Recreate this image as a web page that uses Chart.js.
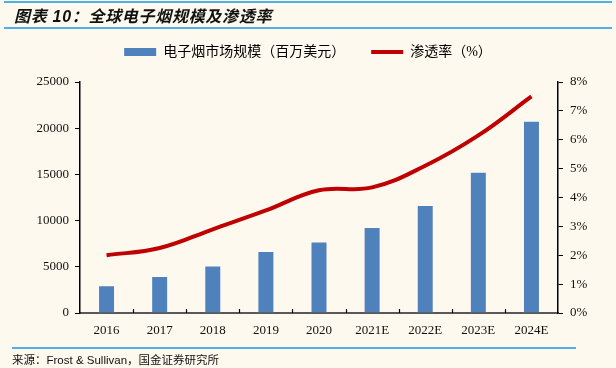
<!DOCTYPE html>
<html>
<head>
<meta charset="utf-8">
<script src="https://cdn.jsdelivr.net/npm/chart.js@4"></script>
<style>
  body { margin: 0; background: #FDF9EE; }
  #wrap { position: relative; width: 616px; height: 368px; background: #FDF9EE; overflow: hidden; }
  #c { position: absolute; left: 0; top: 0; }
  .rule { position: absolute; height: 2px; background: #4DB1E8; }
  #title { position: absolute; left: 14px; top: 3px; font: italic bold 16px "Liberation Sans", "Noto Sans CJK SC"; color: #111; letter-spacing: 0.7px; }
  #source { position: absolute; left: 12px; top: 351px; font: 11.5px "Liberation Sans", "Noto Sans CJK SC"; color: #111; }
</style>
</head>
<body>
<div id="wrap">
  <canvas id="c" width="616" height="368"></canvas>
  <div class="rule" style="left:4px;top:1px;width:608px"></div>
  <div class="rule" style="left:4px;top:27px;width:608px"></div>
  <div id="title">图表 10：全球电子烟规模及渗透率</div>
  <div class="rule" style="left:12px;top:347px;width:564px"></div>
  <div id="source">来源：Frost &amp; Sullivan，国金证券研究所</div>
</div>
<script>
const years = ['2016', '2017', '2018', '2019', '2020', '2021E', '2022E', '2023E', '2024E'];
const marketSize = [3000, 4000, 5150, 6700, 7750, 9300, 11700, 15300, 20800]; // 百万美元
const penetration = [2.0, 2.25, 2.9, 3.55, 4.25, 4.35, 5.1, 6.15, 7.5]; // %

const serif = '"Liberation Serif", "Noto Sans CJK SC"';

// small inward ticks between the categories
const innerTicks = {
  id: 'innerTicks',
  afterDraw(chart) {
    const x = chart.scales.x, c = chart.ctx;
    const half = (x.getPixelForValue(1) - x.getPixelForValue(0)) / 2;
    c.save();
    c.strokeStyle = '#000';
    c.lineWidth = 1.2;
    for (let i = 1; i < years.length; i++) {
      const px = Math.round(x.getPixelForValue(i) - half) + 0.5;
      c.beginPath();
      c.moveTo(px, x.top);
      c.lineTo(px, x.top - 4);
      c.stroke();
    }
    c.restore();
  }
};

// extra room under the legend
const legendMargin = {
  id: 'legendMargin',
  beforeInit(chart) {
    const fit = chart.legend.fit;
    chart.legend.fit = function () {
      fit.call(this);
      this.height += 13;
    };
  }
};

new Chart(document.getElementById('c'), {
  type: 'bar',
  data: {
    labels: years,
    datasets: [{
      type: 'line',
      label: '渗透率（%）',
      data: penetration,
      yAxisID: 'y1',
      borderColor: '#C00000',
      backgroundColor: '#C00000',
      borderWidth: 4,
      pointRadius: 0,
      tension: 0.4,
      order: 0
    }, {
      label: '电子烟市场规模（百万美元）',
      data: marketSize,
      yAxisID: 'y',
      backgroundColor: '#4F81BD',
      borderColor: 'rgba(255,255,255,0.35)',
      borderWidth: 1,
      barPercentage: 0.32,
      categoryPercentage: 1,
      order: 1
    }]
  },
  options: {
    responsive: false,
    animation: false,
    layout: { padding: { top: 19, left: 0, right: 0, bottom: 0 } },
    plugins: {
      tooltip: { enabled: false },
      legend: {
        reverse: true,
        labels: {
          font: { family: serif, size: 14 },
          color: '#111',
          usePointStyle: true,
          pointStyleWidth: 32,
          boxHeight: 8,
          padding: 26,
          generateLabels(chart) {
            return chart.data.datasets.map((ds, i) => ({
              text: ds.label,
              fillStyle: ds.backgroundColor,
              strokeStyle: ds.type === 'line' ? ds.borderColor : ds.backgroundColor,
              lineWidth: ds.type === 'line' ? 4 : 0,
              pointStyle: ds.type === 'line' ? 'line' : 'rect',
              datasetIndex: i
            }));
          }
        }
      }
    },
    scales: {
      x: {
        offset: true,
        grid: { display: false },
        border: { color: '#595959', width: 2 },
        ticks: { font: { family: serif, size: 13 }, color: '#111', padding: 2 },
        afterFit(s) { s.height = 55; }
      },
      y: {
        position: 'left',
        min: 0, max: 25000,
        ticks: { stepSize: 5000, font: { family: serif, size: 13 }, color: '#111', padding: 6,
                 callback: v => String(v) },
        grid: { drawOnChartArea: false, tickLength: 5, color: '#000' },
        border: { color: '#000', width: 1.5 },
        afterFit(s) { s.width = 80; }
      },
      y1: {
        position: 'right',
        min: 0, max: 8,
        ticks: { stepSize: 1, font: { family: serif, size: 13 }, color: '#111', padding: 7,
                 callback: v => v + '%' },
        grid: { drawOnChartArea: false, tickLength: 5, color: '#000' },
        border: { color: '#000', width: 1.5 },
        afterFit(s) { s.width = 58; }
      }
    }
  },
  plugins: [innerTicks, legendMargin]
});
</script>
</body>
</html>
